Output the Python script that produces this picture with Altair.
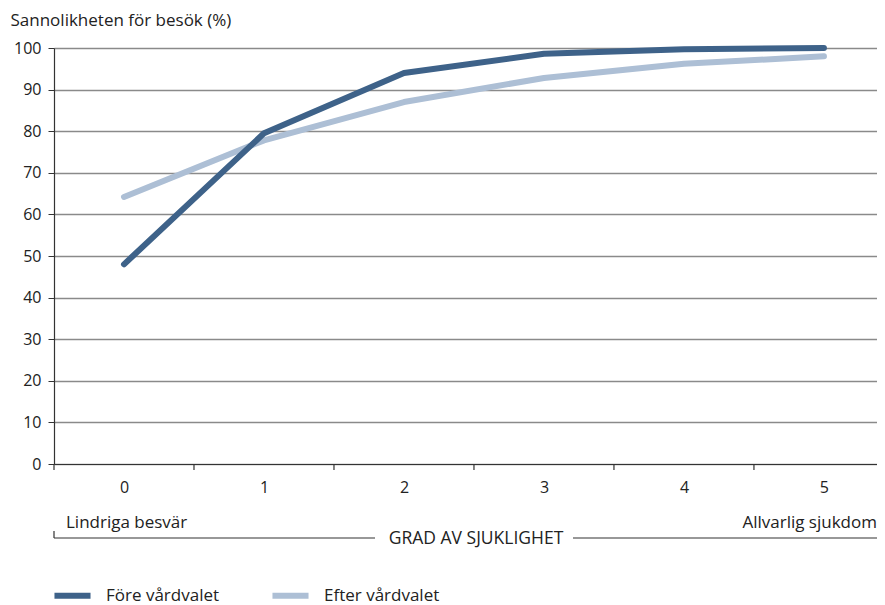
import altair as alt
import pandas as pd

grades = [0, 1, 2, 3, 4, 5]
fore = [48, 79.5, 94, 98.6, 99.7, 100]
efter = [64.2, 77.8, 87, 92.8, 96.2, 98]
series_names = ["Före vårdvalet", "Efter vårdvalet"]
colors = ["#3e6289", "#adbfd5"]
band_edges = [-0.5, 0.5, 1.5, 2.5, 3.5, 4.5]

FONT = "Open Sans"
TXT = "#222222"
W, H = 823, 416

rows = []
for g, v in zip(grades, efter):
    rows.append({"grad": g, "val": v, "serie": series_names[1], "ord": 0})
for g, v in zip(grades, fore):
    rows.append({"grad": g, "val": v, "serie": series_names[0], "ord": 1})
df = pd.DataFrame(rows)

xscale = alt.Scale(domain=[-0.5, 5.379], nice=False, zero=False)

lines = alt.Chart(df).mark_line(strokeWidth=6, strokeCap="round", strokeJoin="round").encode(
    x=alt.X("grad:Q", scale=xscale,
            axis=alt.Axis(values=grades, format="d", title=None, tickSize=0, labelPadding=15,
                          grid=False, domainColor="#333333", domainWidth=1.2,
                          labelFont=FONT, labelFontSize=16, labelColor=TXT)),
    y=alt.Y("val:Q", scale=alt.Scale(domain=[0, 100], nice=False),
            axis=alt.Axis(values=list(range(0, 101, 10)), title="Sannolikheten för besök (%)",
                          titleAngle=0, titleX=-44, titleY=-23, titleAlign="left",
                          titleBaseline="alphabetic", titleFont=FONT, titleFontSize=17,
                          titleFontWeight="normal", titleColor=TXT,
                          tickSize=6, tickColor="#333333", labelPadding=7,
                          labelFont=FONT, labelFontSize=16, labelColor=TXT,
                          gridColor="#8a8a8a", gridWidth=1.5,
                          domainColor="#333333", domainWidth=1.2)),
    color=alt.Color("serie:N", scale=alt.Scale(domain=series_names, range=colors),
                    legend=alt.Legend(title=None, orient="none", legendX=-3, legendY=526,
                                      padding=0, direction="horizontal", symbolType="stroke",
                                      symbolSize=1300, symbolStrokeWidth=6,
                                      labelFont=FONT, labelFontSize=17, labelColor=TXT,
                                      labelOffset=12, columnPadding=40)),
    order=alt.Order("ord:Q"),
)

ticks_df = pd.DataFrame({"edge": band_edges})
xticks = alt.Chart(ticks_df).mark_rule(color="#333333", strokeWidth=1.2).encode(
    x=alt.X("edge:Q", scale=xscale),
    y=alt.value(H),
    y2=alt.value(H + 6),
)

left_lbl = alt.Chart(pd.DataFrame({"t": ["Lindriga besvär"]})).mark_text(
    align="left", baseline="alphabetic", font=FONT, fontSize=17, color=TXT).encode(
    text="t:N", x=alt.value(12), y=alt.value(H + 64))
right_lbl = alt.Chart(pd.DataFrame({"t": ["Allvarlig sjukdom"]})).mark_text(
    align="right", baseline="alphabetic", font=FONT, fontSize=17, color=TXT).encode(
    text="t:N", x=alt.value(W), y=alt.value(H + 64))
mid_lbl = alt.Chart(pd.DataFrame({"t": ["GRAD AV SJUKLIGHET"]})).mark_text(
    align="center", baseline="alphabetic", font=FONT, fontSize=17.5, color=TXT).encode(
    text="t:N", x=alt.value(422), y=alt.value(H + 80))

br1 = alt.Chart(pd.DataFrame({"a": [0]})).mark_rule(color="#333333", strokeWidth=1.2).encode(
    x=alt.value(0), y=alt.value(H + 67), y2=alt.value(H + 74))
br2 = alt.Chart(pd.DataFrame({"a": [0]})).mark_rule(color="#333333", strokeWidth=1.2).encode(
    x=alt.value(0), x2=alt.value(321), y=alt.value(H + 74))
br3 = alt.Chart(pd.DataFrame({"a": [0]})).mark_rule(color="#333333", strokeWidth=1.2).encode(
    x=alt.value(519), x2=alt.value(W), y=alt.value(H + 74))

chart = alt.layer(lines, xticks, left_lbl, right_lbl, mid_lbl, br1, br2, br3).properties(
    width=W, height=H,
    autosize=alt.AutoSizeParams(type="none"),
    padding={"left": 46, "top": 40, "right": 0, "bottom": 141},
).configure_view(stroke=None).configure(background="white")

chart.save("out.html", embed_options={"renderer": "svg", "actions": False})
